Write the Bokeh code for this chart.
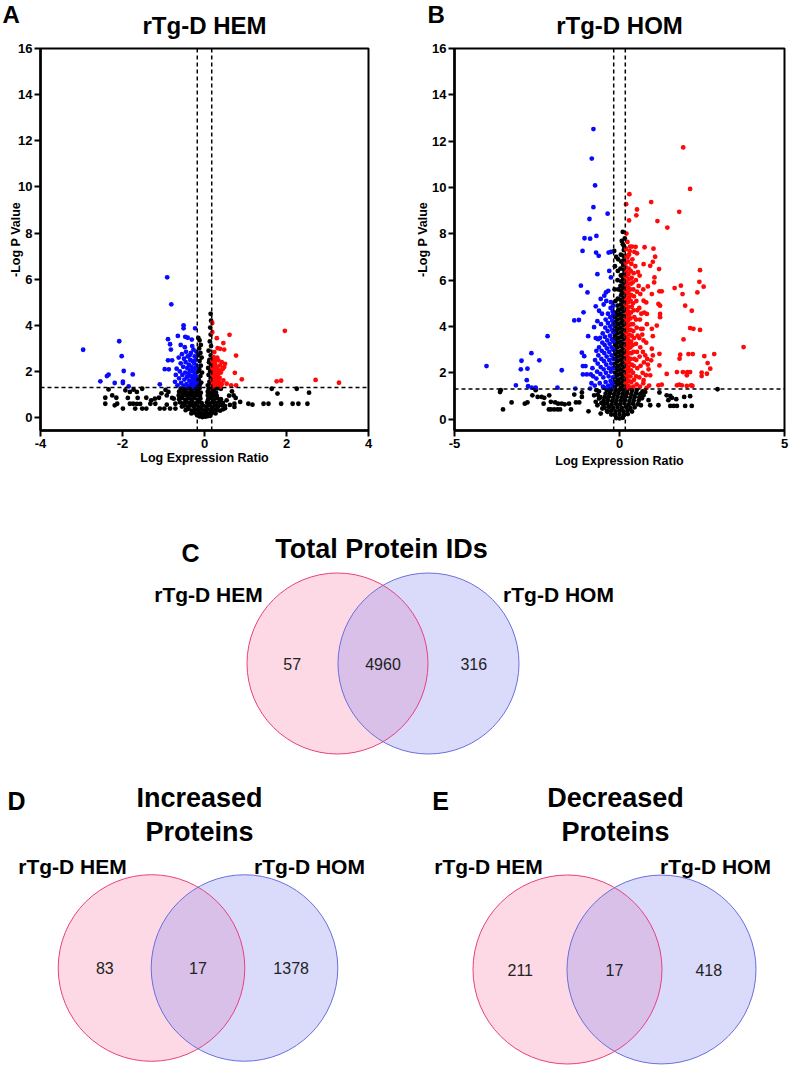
from bokeh.plotting import figure
from bokeh.layouts import column, row
from bokeh.models import Range1d, FixedTicker, Span
from bokeh.embed import file_html
from bokeh.resources import INLINE
from bokeh.core.properties import value

FONT = "Liberation Sans"

# ---------------- data ----------------
fc_cut = 0.176          # |log ratio| threshold
p_cut = 1.3             # -log10(0.05)

hem_down = [
    (-0.81, 4.91), (-0.91, 6.08), (-0.51, 4.00), (-0.51, 3.87), (-0.23, 3.87), (-0.65, 3.54), (-0.47, 3.50),
    (-0.41, 3.46), (-2.08, 3.31), (-0.89, 3.40), (-0.84, 3.18), (-2.96, 2.94), (-0.82, 2.95), (-0.31, 3.38),
    (-2.02, 2.66), (-0.89, 2.48), (-0.79, 2.48), (-0.97, 2.10), (-0.87, 2.09), (-1.97, 2.02), (-1.75, 1.87),
    (-2.34, 1.86), (-2.38, 1.80), (-2.54, 1.57), (-2.19, 1.50), (-1.99, 1.56), (-1.99, 1.50), (-1.85, 1.35),
    (-1.09, 1.44),
    (-0.72, 1.55), (-0.70, 1.85), (-0.68, 2.12), (-0.66, 1.40), (-0.63, 2.60), (-0.62, 1.70), (-0.60, 2.00),
    (-0.58, 2.35), (-0.57, 1.50), (-0.55, 2.75), (-0.54, 1.85), (-0.52, 2.20), (-0.51, 1.38), (-0.50, 2.55),
    (-0.49, 1.65), (-0.47, 1.95), (-0.46, 2.40), (-0.45, 2.85), (-0.44, 1.45), (-0.43, 1.75), (-0.42, 2.15),
    (-0.41, 2.65), (-0.40, 1.35), (-0.39, 1.90), (-0.38, 2.30), (-0.37, 1.60), (-0.36, 2.05), (-0.35, 2.50),
    (-0.34, 1.42), (-0.33, 2.80), (-0.33, 1.80), (-0.32, 2.20), (-0.31, 1.55), (-0.30, 2.00), (-0.29, 2.45),
    (-0.28, 1.35), (-0.28, 1.70), (-0.27, 2.95), (-0.26, 2.10), (-0.26, 1.50), (-0.25, 2.35), (-0.24, 1.85),
    (-0.24, 2.65), (-0.23, 1.40), (-0.22, 1.65), (-0.22, 2.15), (-0.21, 1.95), (-0.21, 2.50), (-0.20, 1.35),
    (-0.20, 1.75), (-0.20, 2.85), (-0.19, 2.25), (-0.19, 1.55), (-0.36, 2.70), (-0.48, 3.05), (-0.30, 3.10),
    (-0.58, 3.15),
]

hem_up = [
    (0.19, 4.10), (0.19, 3.70), (0.30, 3.44), (0.61, 3.59), (0.46, 3.23), (0.32, 3.01), (0.38, 2.98),
    (0.48, 2.95), (0.24, 2.84), (0.77, 2.69), (0.22, 2.62), (0.34, 2.48), (0.42, 2.40), (0.50, 2.33),
    (0.26, 2.33), (0.38, 2.26), (0.48, 2.19), (0.28, 2.12), (0.22, 2.04), (0.34, 1.90), (0.74, 1.94),
    (0.46, 1.61), (0.54, 1.47), (0.91, 1.66), (0.65, 1.40), (0.77, 1.40), (1.76, 1.57), (1.87, 1.60),
    (1.96, 3.76), (2.71, 1.63), (3.28, 1.51),
    (0.19, 1.35), (0.21, 1.48), (0.19, 1.62), (0.23, 1.75), (0.20, 1.88), (0.22, 2.00), (0.19, 2.15),
    (0.21, 2.28), (0.19, 2.45), (0.24, 1.40), (0.26, 1.58), (0.25, 1.72), (0.27, 1.85), (0.24, 2.20),
    (0.28, 1.45), (0.30, 1.65), (0.29, 1.95), (0.31, 2.20), (0.33, 1.38), (0.35, 1.55), (0.32, 1.78),
    (0.37, 1.72), (0.40, 1.95), (0.36, 2.05), (0.42, 1.45), (0.39, 1.35), (0.44, 2.10), (0.31, 2.60),
    (0.27, 2.50), (0.23, 2.55),
]

hem_ns = [
    (-2.34, 1.22), (-2.42, 0.86), (-2.25, 0.96), (-2.15, 0.86), (-2.42, 0.60), (-2.13, 0.60), (-1.99, 0.39),
    (-1.87, 0.85), (-1.82, 1.11), (-1.73, 1.21), (-1.65, 1.11), (-1.52, 1.25), (-1.63, 0.85), (-1.42, 0.86),
    (-1.21, 0.82), (-1.11, 0.86), (-1.82, 0.60), (-1.74, 0.60), (-1.65, 0.59), (-1.57, 0.59), (-1.69, 0.39),
    (-1.52, 0.39), (-1.42, 0.39), (-1.32, 0.60), (-1.20, 0.60), (-1.09, 0.39), (-0.98, 0.39), (-0.92, 0.96),
    (-0.88, 1.11), (-0.79, 0.85), (-0.92, 0.56), (-0.84, 0.39), (-0.71, 0.60), (-0.71, 0.39), (-0.75, 0.82),
    (-1.93, 1.18), (-2.19, 0.53), (-1.30, 0.75), (-1.05, 1.05), (-0.95, 1.20),
    (0.40, 1.25), (0.67, 1.14), (0.71, 0.96), (0.76, 0.85), (0.73, 0.60), (0.73, 0.46), (0.87, 0.68),
    (1.07, 0.60), (1.17, 0.56), (1.44, 0.60), (1.56, 0.60), (1.64, 1.25), (1.78, 1.04), (1.87, 0.60),
    (2.15, 0.60), (2.29, 0.60), (2.25, 1.25), (2.51, 0.60), (2.55, 1.08), (0.54, 0.75), (0.60, 0.95),
    (0.62, 0.55), (0.50, 0.40),
    (-0.12, 0.05), (-0.05, 0.02), (0.02, 0.04), (0.08, 0.06), (0.14, 0.08), (-0.18, 0.10),
    (-0.32, 0.18), (-0.25, 0.22), (-0.17, 0.15), (-0.09, 0.20), (-0.02, 0.14), (0.05, 0.20), (0.12, 0.16),
    (0.20, 0.22), (0.27, 0.18),
    (-0.46, 0.32), (-0.39, 0.38), (-0.31, 0.30), (-0.24, 0.36), (-0.16, 0.33), (-0.08, 0.38), (0.00, 0.31),
    (0.07, 0.36), (0.15, 0.32), (0.22, 0.38), (0.30, 0.34), (0.38, 0.30), (0.45, 0.36),
    (-0.55, 0.48), (-0.48, 0.52), (-0.40, 0.47), (-0.33, 0.53), (-0.26, 0.49), (-0.19, 0.54), (-0.11, 0.47),
    (-0.04, 0.52), (0.04, 0.48), (0.11, 0.53), (0.18, 0.47), (0.25, 0.52), (0.33, 0.48), (0.41, 0.54),
    (0.50, 0.50),
    (-0.60, 0.66), (-0.52, 0.62), (-0.45, 0.68), (-0.37, 0.63), (-0.30, 0.67), (-0.22, 0.62), (-0.14, 0.68),
    (-0.07, 0.63), (0.06, 0.66), (0.13, 0.62), (0.20, 0.68), (0.28, 0.63), (0.36, 0.67), (0.45, 0.64),
    (-0.62, 0.80), (-0.55, 0.84), (-0.47, 0.78), (-0.40, 0.83), (-0.32, 0.79), (-0.25, 0.84), (-0.17, 0.78),
    (-0.10, 0.82), (0.09, 0.80), (0.16, 0.84), (0.23, 0.79), (0.31, 0.83), (0.40, 0.80),
    (-0.63, 0.96), (-0.55, 0.92), (-0.48, 0.98), (-0.40, 0.93), (-0.33, 0.97), (-0.26, 0.92), (-0.19, 0.98),
    (-0.11, 0.94), (0.08, 0.96), (0.15, 0.92), (0.22, 0.98), (0.30, 0.94),
    (-0.62, 1.12), (-0.54, 1.08), (-0.46, 1.13), (-0.39, 1.07), (-0.31, 1.12), (-0.24, 1.08), (-0.16, 1.13),
    (-0.09, 1.08), (0.08, 1.12), (0.14, 1.07), (0.21, 1.13), (0.28, 1.08),
    (-0.58, 1.25), (-0.50, 1.22), (-0.42, 1.27), (-0.34, 1.23), (-0.27, 1.28), (-0.20, 1.24), (-0.12, 1.27),
    (0.10, 1.24), (0.16, 1.28), (0.23, 1.23), (0.32, 1.27),
    (-0.12, 1.40), (-0.08, 1.52), (-0.14, 1.65), (-0.10, 1.80), (-0.06, 1.95), (-0.13, 2.10), (-0.09, 2.25),
    (-0.12, 2.45), (-0.07, 2.60), (-0.10, 2.80), (-0.13, 3.00), (-0.09, 3.15), (-0.12, 3.35), (-0.15, 3.45),
    (-0.16, 1.55), (-0.15, 2.00), (-0.16, 2.70),
    (0.08, 1.40), (0.12, 1.55), (0.15, 1.70), (0.10, 1.85), (0.14, 2.00), (0.09, 2.15), (0.16, 2.30),
    (0.12, 2.50), (0.15, 2.70), (0.10, 2.90), (0.16, 3.10), (0.13, 3.30), (0.15, 3.60), (0.14, 3.90),
    (0.16, 4.20), (0.15, 4.50), (0.17, 1.45), (0.17, 2.10), (0.11, 2.40),
]

hom_down = [
    (-0.79, 12.52), (-0.84, 11.25), (-0.74, 10.09), (-0.79, 9.15), (-0.36, 8.87), (-0.91, 8.64),
    (-1.06, 7.81), (-0.89, 7.79), (-0.70, 7.91), (-1.12, 7.26), (-0.71, 7.19), (-0.63, 7.05),
    (-0.33, 7.19), (-0.26, 7.22),
    (-0.67, 6.26), (-0.31, 6.40), (-0.26, 6.12), (-1.17, 5.76), (-0.97, 5.47), (-0.41, 5.47), (-0.34, 5.54),
    (-0.46, 5.33), (-0.57, 5.19), (-0.72, 4.87), (-1.09, 4.61), (-0.62, 4.68), (-1.37, 4.26), (-1.23, 4.28),
    (-0.77, 3.97), (-0.67, 4.23), (-2.18, 3.58), (-0.95, 3.58), (-0.72, 3.50), (-0.59, 3.51), (-2.67, 2.85),
    (-1.14, 2.87), (-1.07, 2.72), (-2.43, 2.54), (-2.97, 2.52), (-4.03, 2.29), (-1.11, 2.29), (-1.03, 2.29),
    (-2.99, 2.15), (-2.79, 2.18), (-1.75, 2.11), (-1.11, 1.93), (-0.99, 1.93), (-0.87, 1.93), (-2.81, 1.68),
    (-3.14, 1.46), (-2.77, 1.42), (-2.66, 1.36), (-2.54, 1.36), (-1.88, 1.36), (-1.34, 1.32), (-0.89, 1.32),
    (-0.75, 1.45), (-0.70, 1.75), (-0.68, 2.05), (-0.66, 2.40), (-0.64, 2.75), (-0.62, 3.10), (-0.60, 1.55),
    (-0.58, 1.95), (-0.57, 2.25), (-0.55, 2.60), (-0.54, 2.95), (-0.52, 3.30), (-0.51, 3.70), (-0.50, 1.40),
    (-0.49, 1.80), (-0.48, 2.15), (-0.47, 2.50), (-0.46, 2.85), (-0.45, 3.20), (-0.44, 3.55), (-0.43, 3.95),
    (-0.42, 4.30), (-0.42, 1.60), (-0.41, 2.00), (-0.40, 2.35), (-0.39, 2.70), (-0.38, 3.05), (-0.37, 3.40),
    (-0.36, 3.80), (-0.35, 4.15), (-0.35, 4.55), (-0.34, 1.45), (-0.33, 1.85), (-0.32, 2.20), (-0.31, 2.55),
    (-0.31, 2.90), (-0.30, 3.25), (-0.29, 3.60), (-0.28, 4.00), (-0.28, 4.40), (-0.27, 4.80), (-0.27, 1.65),
    (-0.26, 2.05), (-0.25, 2.40), (-0.24, 2.75), (-0.24, 3.10), (-0.23, 3.45), (-0.22, 3.85), (-0.22, 4.25),
    (-0.21, 4.65), (-0.21, 1.40), (-0.20, 1.80), (-0.20, 2.20), (-0.19, 2.60), (-0.19, 3.00), (-0.19, 3.35),
    (-0.19, 3.75), (-0.19, 4.10), (-0.19, 4.50), (-0.19, 4.90), (-0.53, 4.55), (-0.48, 4.95), (-0.40, 5.10),
    (-0.56, 4.10), (-0.65, 3.45), (-0.70, 2.95), (-0.74, 2.55), (-0.80, 1.85), (-0.85, 1.55), (-0.82, 2.20),
    (-0.26, 5.05), (-0.23, 1.55), (-0.30, 1.35), (-0.45, 1.35),
]

hom_up = [
    (1.93, 11.73), (2.14, 9.94), (0.30, 9.71), (0.96, 9.37), (1.81, 8.95), (0.53, 9.05), (0.51, 8.80),
    (0.29, 8.58), (1.15, 8.55), (1.45, 8.27), (0.20, 9.28), (0.21, 8.01), (0.24, 7.65), (0.32, 7.45),
    (0.38, 7.45), (0.49, 7.44), (0.76, 7.42), (1.03, 7.36), (0.45, 7.22), (0.53, 7.16), (1.08, 7.01),
    (0.24, 6.98),
    (2.44, 6.43), (2.42, 5.93), (2.55, 5.72), (2.36, 5.47), (1.67, 5.66), (1.86, 5.76), (1.91, 5.40),
    (1.99, 4.90), (2.19, 4.68), (2.14, 3.93), (2.24, 3.90), (2.44, 3.85), (1.94, 3.44), (3.76, 3.11),
    (1.84, 2.78), (2.09, 2.81), (2.22, 2.81), (2.57, 2.72), (2.87, 2.81), (1.82, 2.61), (2.67, 2.42),
    (2.75, 2.18), (1.74, 2.03), (1.92, 2.03), (2.04, 2.00), (2.06, 2.03), (2.14, 2.03), (2.04, 1.89),
    (2.49, 2.01), (2.49, 1.86), (2.65, 1.96), (1.43, 1.95), (1.21, 2.32), (1.74, 1.46), (1.81, 1.49),
    (1.89, 1.46), (2.04, 1.43), (2.17, 1.46), (2.21, 1.43), (1.18, 1.46), (1.28, 1.49), (1.21, 5.52),
    (1.28, 5.52), (1.18, 4.97), (1.23, 4.90), (1.23, 4.54), (1.23, 4.40), (1.20, 6.48), (1.01, 6.79),
    (0.73, 6.69), (0.93, 6.62), (1.06, 6.12), (1.05, 5.90), (0.86, 5.73), (0.98, 5.40), (0.73, 5.11),
    (0.81, 5.04), (0.83, 4.54), (1.13, 4.04), (0.98, 3.90), (1.01, 3.58), (0.98, 3.04), (1.01, 2.75),
    (1.21, 2.82), (0.96, 2.54), (0.88, 2.15), (0.93, 1.89), (0.73, 1.68),
    (0.20, 1.35), (0.19, 1.55), (0.21, 1.75), (0.19, 1.95), (0.22, 2.15), (0.20, 2.35), (0.19, 2.55),
    (0.21, 2.75), (0.20, 2.95), (0.19, 3.15), (0.22, 3.35), (0.20, 3.55), (0.19, 3.75), (0.21, 3.95),
    (0.20, 4.15), (0.19, 4.35), (0.22, 4.55), (0.20, 4.75), (0.19, 4.95), (0.21, 5.15), (0.20, 5.35),
    (0.19, 5.55), (0.22, 5.75), (0.20, 5.95), (0.19, 6.15), (0.21, 6.35), (0.20, 6.55), (0.19, 6.75),
    (0.21, 7.05), (0.20, 7.35),
    (0.27, 1.45), (0.28, 1.65), (0.26, 1.85), (0.29, 2.05), (0.27, 2.25), (0.28, 2.45), (0.26, 2.65),
    (0.29, 2.85), (0.27, 3.05), (0.28, 3.25), (0.26, 3.45), (0.29, 3.65), (0.27, 3.85), (0.28, 4.05),
    (0.26, 4.25), (0.29, 4.45), (0.27, 4.65), (0.28, 4.85), (0.26, 5.05), (0.29, 5.25), (0.27, 5.45),
    (0.28, 5.65), (0.26, 5.85), (0.29, 6.05), (0.27, 6.25), (0.28, 6.50), (0.26, 6.80), (0.29, 7.10),
    (0.34, 1.35), (0.36, 1.60), (0.33, 1.85), (0.35, 2.10), (0.37, 2.35), (0.34, 2.60), (0.36, 2.85),
    (0.33, 3.10), (0.35, 3.35), (0.37, 3.60), (0.34, 3.85), (0.36, 4.10), (0.33, 4.35), (0.35, 4.60),
    (0.37, 4.85), (0.34, 5.10), (0.36, 5.35), (0.33, 5.60), (0.35, 5.85), (0.37, 6.10), (0.34, 6.40),
    (0.36, 6.70),
    (0.42, 1.40), (0.44, 1.70), (0.41, 2.00), (0.43, 2.30), (0.45, 2.60), (0.42, 2.90), (0.40, 3.20),
    (0.44, 3.50), (0.42, 3.80), (0.41, 4.10), (0.45, 4.40), (0.43, 4.70), (0.41, 5.00), (0.44, 5.30),
    (0.42, 5.60), (0.40, 5.90), (0.43, 6.30),
    (0.52, 1.50), (0.50, 1.85), (0.54, 2.20), (0.51, 2.55), (0.53, 2.90), (0.50, 3.25), (0.55, 3.60),
    (0.52, 3.95), (0.50, 4.30), (0.54, 4.70), (0.51, 5.10), (0.53, 5.50), (0.50, 6.00),
    (0.62, 1.40), (0.60, 1.80), (0.64, 2.30), (0.61, 2.70), (0.63, 3.10), (0.60, 3.50), (0.65, 3.90),
    (0.62, 4.30), (0.60, 4.80), (0.63, 5.40), (0.61, 6.20),
    (0.72, 1.55), (0.70, 2.00), (0.74, 2.45), (0.71, 2.90), (0.73, 3.40), (0.70, 3.90), (0.75, 4.60),
    (0.72, 5.60), (0.82, 1.35), (0.80, 1.90), (0.84, 2.60), (0.81, 3.30), (0.83, 4.10),
    (0.90, 1.45), (0.86, 2.35), (0.78, 2.75), (0.69, 3.65), (0.66, 4.55), (0.58, 5.75), (0.48, 6.60),
    (0.39, 6.90), (0.31, 7.25), (0.56, 6.35),
]

hom_ns = [
    (-3.60, 1.25), (-3.62, 1.17), (-3.27, 0.72), (-3.53, 0.42), (-2.87, 0.67), (-2.79, 0.72), (-2.64, 1.03),
    (-2.48, 0.96), (-2.36, 0.96), (-2.28, 0.92), (-2.13, 1.03), (-2.08, 0.75), (-2.30, 0.67), (-2.14, 0.42),
    (-2.08, 0.42), (-1.98, 0.42), (-1.88, 0.42), (-1.80, 0.42), (-1.95, 0.72), (-1.86, 0.67), (-1.75, 0.67),
    (-1.66, 0.64), (-1.53, 0.67), (-1.47, 0.42), (-1.32, 0.72), (-1.22, 0.72), (-1.14, 0.96), (-1.14, 1.15),
    (-0.94, 0.34), (-2.54, 1.25), (-1.37, 1.06), (-0.77, 1.03), (-0.72, 0.75), (-0.67, 0.60), (-0.62, 0.89),
    (-0.52, 0.46), (-0.46, 0.67), (-0.36, 0.32), (-0.57, 0.24),
    (2.97, 1.29), (1.43, 1.03), (1.54, 1.00), (1.59, 0.92), (1.48, 0.82), (1.72, 0.86), (2.14, 0.99),
    (1.96, 0.96), (1.54, 0.57), (1.64, 0.57), (1.74, 0.57), (1.99, 0.57), (2.19, 0.57), (1.21, 1.15),
    (1.18, 0.60), (0.93, 0.60), (0.88, 0.82), (0.73, 1.03), (0.78, 1.17),
    (-0.10, 0.05), (0.00, 0.03), (0.10, 0.06),
    (-0.25, 0.20), (-0.13, 0.18), (0.00, 0.21), (0.13, 0.17), (0.25, 0.22),
    (-0.38, 0.35), (-0.25, 0.37), (-0.12, 0.33), (0.00, 0.36), (0.12, 0.34), (0.25, 0.38), (0.38, 0.33),
    (-0.45, 0.50), (-0.32, 0.52), (-0.19, 0.48), (-0.06, 0.51), (0.07, 0.49), (0.20, 0.53), (0.33, 0.48),
    (0.46, 0.51),
    (-0.50, 0.65), (-0.37, 0.67), (-0.24, 0.63), (-0.11, 0.66), (0.02, 0.64), (0.15, 0.68), (0.28, 0.63),
    (0.41, 0.66), (0.55, 0.64),
    (-0.48, 0.80), (-0.35, 0.82), (-0.22, 0.78), (-0.09, 0.81), (0.04, 0.79), (0.17, 0.83), (0.30, 0.78),
    (0.43, 0.81), (0.58, 0.79),
    (-0.45, 0.95), (-0.32, 0.97), (-0.19, 0.93), (-0.06, 0.96), (0.07, 0.94), (0.20, 0.98), (0.33, 0.93),
    (0.46, 0.96), (0.60, 0.94),
    (-0.42, 1.10), (-0.29, 1.12), (-0.16, 1.08), (-0.03, 1.11), (0.10, 1.09), (0.23, 1.13), (0.36, 1.08),
    (0.50, 1.11), (0.63, 1.09),
    (-0.38, 1.25), (-0.25, 1.27), (-0.12, 1.23), (0.00, 1.26), (0.12, 1.24), (0.25, 1.28), (0.38, 1.23),
    (0.52, 1.26),
    (-0.62, 1.20), (-0.58, 0.95), (-0.66, 1.05), (-0.55, 0.70), (-0.70, 1.25), (0.68, 0.90), (0.70, 1.20),
    (0.65, 0.60),
    (-0.13, 1.40), (-0.12, 1.60), (-0.14, 1.80), (-0.12, 2.00), (-0.13, 2.20), (-0.14, 2.40), (-0.12, 2.60),
    (-0.13, 2.80), (-0.14, 3.00), (-0.12, 3.20), (-0.13, 3.40), (-0.14, 3.60), (-0.12, 3.80), (-0.13, 4.00),
    (-0.12, 4.20), (-0.14, 4.40), (-0.12, 4.60),
    (-0.05, 1.50), (-0.04, 1.70), (-0.06, 1.90), (-0.05, 2.10), (-0.04, 2.30), (-0.06, 2.50), (-0.05, 2.70),
    (-0.04, 2.90), (-0.06, 3.10), (-0.05, 3.30), (-0.04, 3.50), (-0.06, 3.70), (-0.05, 3.90), (-0.04, 4.10),
    (-0.06, 4.30), (-0.05, 4.50), (-0.04, 4.70), (-0.06, 4.90), (-0.05, 5.20), (-0.04, 5.60), (-0.06, 6.00),
    (-0.05, 6.40), (-0.04, 6.90),
    (0.04, 1.35), (0.03, 1.55), (0.05, 1.75), (0.04, 1.95), (0.03, 2.15), (0.05, 2.35), (0.04, 2.55),
    (0.03, 2.75), (0.05, 2.95), (0.04, 3.15), (0.03, 3.35), (0.05, 3.55), (0.04, 3.75), (0.03, 3.95),
    (0.05, 4.15), (0.04, 4.35), (0.03, 4.55), (0.05, 4.75), (0.04, 4.95), (0.03, 5.15), (0.05, 5.35),
    (0.04, 5.55), (0.03, 5.75), (0.05, 5.95), (0.04, 6.20), (0.03, 6.50), (0.05, 6.80), (0.04, 7.10),
    (0.12, 1.45), (0.13, 1.65), (0.11, 1.85), (0.12, 2.05), (0.13, 2.25), (0.11, 2.45), (0.12, 2.65),
    (0.13, 2.85), (0.11, 3.05), (0.12, 3.25), (0.13, 3.45), (0.11, 3.65), (0.12, 3.85), (0.13, 4.05),
    (0.11, 4.25), (0.12, 4.45), (0.13, 4.65), (0.11, 4.85), (0.12, 5.05), (0.13, 5.25), (0.11, 5.45),
    (0.12, 5.65), (0.13, 5.85), (0.11, 6.05), (0.12, 6.25), (0.13, 6.45), (0.11, 6.65), (0.12, 6.85),
    (0.13, 7.30),
    (0.10, 8.08), (0.07, 7.69), (0.10, 7.55), (-0.16, 7.26), (0.12, 7.05), (0.16, 7.80), (0.14, 7.45),
    (-0.10, 7.00), (-0.14, 6.60), (-0.12, 5.10), (-0.15, 5.60),
]

panel_titles = ["rTg-D HEM", "rTg-D HOM"]
groups = ["rTg-D HEM", "rTg-D HOM"]
venn_titles = ["Total Protein IDs", "Increased\nProteins", "Decreased\nProteins"]
total_counts = [57, 4960, 316]        # HEM only, both, HOM only
increased_counts = [83, 17, 1378]
decreased_counts = [211, 17, 418]

# ---------------- header (panel letters + titles) ----------------
HEADER_H = 40
h = figure(width=789, height=HEADER_H, x_range=Range1d(0, 789), y_range=Range1d(HEADER_H, 0),
           output_backend="svg", toolbar_location=None, min_border=0,
           x_axis_type=None, y_axis_type=None, outline_line_color=None,
           background_fill_color="white", border_fill_color="white")
h.grid.visible = False
h.text(x=[2, 427], y=[13.5, 13.5], text=["A", "B"], text_font=value(FONT), text_font_size="24px",
       text_font_style="bold", text_color="black", text_align="left", text_baseline="middle")
h.text(x=[204, 619], y=[25, 25], text=panel_titles, text_font=value(FONT), text_font_size="24px",
       text_font_style="bold", text_color="black", text_align="center", text_baseline="middle")


# ---------------- volcano plots ----------------
def volcano(up, down, ns, xr, yr, xticks, width, mb_left, mb_right, ylab_standoff, xlab_standoff):
    p = figure(width=width, height=470 - HEADER_H, x_range=Range1d(*xr), y_range=Range1d(*yr),
               output_backend="svg", toolbar_location=None,
               min_border_left=mb_left, min_border_right=mb_right,
               min_border_top=48 - HEADER_H, min_border_bottom=38,
               background_fill_color="white", border_fill_color="white")
    p.grid.visible = False
    p.outline_line_color = "black"
    p.outline_line_width = 2
    p.outline_line_alpha = 1

    for ax in (p.xaxis[0], p.yaxis[0]):
        ax.axis_line_width = 2.5
        ax.axis_line_color = "black"
        ax.major_tick_line_width = 2
        ax.major_tick_line_color = "black"
        ax.major_tick_out = 6
        ax.major_tick_in = 0
        ax.minor_tick_line_color = None
        ax.major_label_text_font = FONT
        ax.major_label_text_font_size = "13px"
        ax.major_label_text_font_style = "bold"
        ax.major_label_text_color = "black"
        ax.axis_label_text_font = FONT
        ax.axis_label_text_font_size = "12.5px"
        ax.axis_label_text_font_style = "bold"
        ax.axis_label_text_color = "black"

    p.xaxis.ticker = FixedTicker(ticks=xticks)
    p.xaxis.major_label_overrides = {t: str(t) for t in xticks}
    p.xaxis.major_label_standoff = 2
    p.xaxis.axis_label = "Log Expression Ratio"
    p.xaxis.axis_label_standoff = xlab_standoff
    p.yaxis.ticker = FixedTicker(ticks=[0, 2, 4, 6, 8, 10, 12, 14, 16])
    p.yaxis.major_label_standoff = 2
    p.yaxis.axis_label = "-Log P Value"
    p.yaxis.axis_label_standoff = ylab_standoff

    for pts, col in ((ns, "black"), (down, "#0a0aff"), (up, "#ff0a0a")):
        p.scatter([a for a, b in pts], [b for a, b in pts], size=4.8,
                  fill_color=col, line_color=None)

    for loc in (-fc_cut, fc_cut):
        p.add_layout(Span(location=loc, dimension="height", line_color="black",
                          line_dash="4 3", line_width=1.5))
    p.add_layout(Span(location=p_cut, dimension="width", line_color="black",
                      line_dash="4 3", line_width=1.5))
    return p


pA = volcano(hem_up, hem_down, hem_ns, (-4, 4), (-0.56, 16), [-4, -2, 0, 2, 4],
             395, 40, 27, -8, 0)
pB = volcano(hom_up, hom_down, hom_ns, (-5, 5), (-0.49, 16), [-5, 0, 5],
             394, 59, 5, -1, 3)

# ---------------- Venn diagrams ----------------
v = figure(width=789, height=596, x_range=Range1d(0, 789), y_range=Range1d(1066, 470),
           output_backend="svg", toolbar_location=None, min_border=0,
           x_axis_type=None, y_axis_type=None, outline_line_color=None,
           background_fill_color="white", border_fill_color="white")
v.grid.visible = False

left_fill, right_fill = "#f580a8", "#8489ee"
left_line, right_line = "#e8407f", "#6a6fdc"

panels = [
    # letter, letter pos, title, title pos, left cx, right cx, cy, r, label y, label xs, counts
    ("C", (190, 552), venn_titles[0], (381, 548), 337, 428, 663, 90.5, 594, (208, 558), total_counts),
    ("D", (16, 800), venn_titles[1], (199, 797), 151, 244, 967.5, 93.3, 866, (72, 309), increased_counts),
    ("E", (440, 800), venn_titles[2], (615, 797), 567, 661, 969, 94.5, 866, (488, 715), decreased_counts),
]

for letter, lpos, title, tpos, lx, rx, cy, r, ly, lxs, counts in panels:
    v.circle(x=[lx], y=[cy], radius=r, fill_color=left_fill, fill_alpha=0.3, line_color=None)
    v.circle(x=[rx], y=[cy], radius=r, fill_color=right_fill, fill_alpha=0.3, line_color=None)
    v.circle(x=[lx], y=[cy], radius=r, fill_color=None, line_color=left_line, line_width=1)
    v.circle(x=[rx], y=[cy], radius=r, fill_color=None, line_color=right_line, line_width=1)
    v.text(x=[lx - r / 2, (lx + rx) / 2, rx + r / 2], y=[cy] * 3, text=[str(c) for c in counts],
           text_font=value(FONT), text_font_size="16px", text_color="#222222",
           text_align="center", text_baseline="middle")
    v.text(x=list(lxs), y=[ly, ly], text=groups, text_font=value(FONT), text_font_size="21px",
           text_font_style="bold", text_color="black", text_align="center", text_baseline="middle")
    lines = title.split("\n")
    v.text(x=[tpos[0]] * len(lines), y=[tpos[1] + 34 * i for i in range(len(lines))], text=lines,
           text_font=value(FONT), text_font_size="27px", text_font_style="bold", text_color="black",
           text_align="center", text_baseline="middle")
    v.text(x=[lpos[0]], y=[lpos[1]], text=[letter], text_font=value(FONT), text_font_size="25px",
           text_font_style="bold", text_color="black", text_align="center", text_baseline="middle")

layout = column(h, row(pA, pB, spacing=0), v, spacing=0)
open("out.html", "w").write(file_html(layout, INLINE))
